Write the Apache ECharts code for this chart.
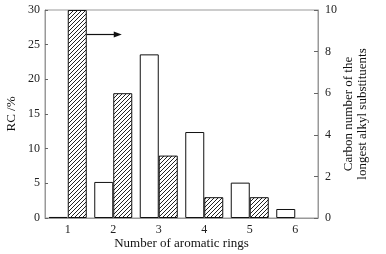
<!DOCTYPE html>
<html><head><meta charset="utf-8">
<script src="https://cdn.jsdelivr.net/npm/echarts@6/dist/echarts.min.js"></script>
<style>html,body{margin:0;padding:0;background:#fff}#c{width:386px;height:254px}</style>
</head><body><div id="c"></div>
<script>
var categories = ['1','2','3','4','5','6'];
var rcValues = [0.15, 5.2, 23.6, 12.4, 5.1, 1.3];
var carbonValues = [10, 6, 3, 1, 1, null];
var leftTicks = [0, 5, 10, 15, 20, 25, 30];
var rightTicks = [0, 2, 4, 6, 8, 10];
var arrowLevel = 8.85;

var pc = document.createElement('canvas');
pc.width = 4; pc.height = 4;
var g = pc.getContext('2d');
g.fillStyle = '#fff'; g.fillRect(0,0,4,4);
g.strokeStyle = '#222'; g.lineWidth = 1;
g.beginPath();
g.moveTo(-1,5); g.lineTo(5,-1);
g.moveTo(-1,1); g.lineTo(1,-1);
g.moveTo(3,5); g.lineTo(5,3);
g.stroke();

var font = 'Liberation Serif';
var chart = echarts.init(document.getElementById('c'), null, {renderer:'canvas'});
var axisCol = '#999';
chart.setOption({
  animation: false,
  grid: {left:45, right:68, top:10, bottom:36, show:true, borderColor:axisCol, borderWidth:1,
         containLabel:false, outerBoundsMode:'none'},
  xAxis: {
    type:'category', data:categories,
    name:'Number of aromatic rings', nameLocation:'middle', nameGap:19, nameMoveOverlap:false,
    nameTextStyle:{fontFamily:font, fontSize:13, color:'#111'},
    axisLine:{lineStyle:{color:axisCol}},
    axisTick:{inside:true, length:4, lineStyle:{color:'#333'}},
    axisLabel:{fontFamily:font, fontSize:12, color:'#222', margin:6}
  },
  yAxis: [{
    type:'value', min:leftTicks[0], max:leftTicks[leftTicks.length-1], interval:5,
    name:'RC /%', nameLocation:'middle', nameGap:27, nameRotate:90, nameMoveOverlap:false,
    nameTextStyle:{fontFamily:font, fontSize:13, color:'#111'},
    axisLine:{show:true, lineStyle:{color:axisCol}},
    axisTick:{show:true, inside:true, length:3, lineStyle:{color:'#666'}},
    splitLine:{show:false},
    axisLabel:{fontFamily:font, fontSize:12, color:'#222', margin:5}
  },{
    type:'value', min:rightTicks[0], max:rightTicks[rightTicks.length-1], interval:2,
    position:'right',
    name:'Carbon number of the\nlongest alkyl substituents', nameLocation:'middle', nameGap:24, nameRotate:90, nameMoveOverlap:false,
    nameTextStyle:{fontFamily:font, fontSize:13, color:'#111', lineHeight:14, align:'center'},
    axisLine:{show:true, lineStyle:{color:axisCol}},
    axisTick:{show:true, inside:true, length:4, lineStyle:{color:'#666'}},
    splitLine:{show:false},
    axisLabel:{fontFamily:font, fontSize:12, color:'#222', margin:7}
  }],
  series: [{
    type:'bar', name:'RC', data:rcValues, yAxisIndex:0,
    barWidth:19, barGap:'0%',
    itemStyle:{color:'#fff', borderColor:'#111', borderWidth:1}
  },{
    type:'bar', name:'Carbon', data:carbonValues, yAxisIndex:1,
    barWidth:19, barGap:'0%',
    itemStyle:{color:{image:pc, repeat:'repeat'}, borderColor:'#111', borderWidth:1}
  }]
});

var p = chart.convertToPixel({xAxisIndex:0, yAxisIndex:1}, [0, arrowLevel]);
var sx = p[0] + 19, ey = Math.round(p[1]) + 0.5, ex = sx + 35;
chart.setOption({graphic:[
  {type:'line', shape:{x1:sx, y1:ey, x2:ex-6, y2:ey}, style:{stroke:'#111', lineWidth:1.2}},
  {type:'polygon', shape:{points:[[ex-8,ey-3],[ex,ey],[ex-8,ey+3]]}, style:{fill:'#111'}}
]});
</script></body></html>
